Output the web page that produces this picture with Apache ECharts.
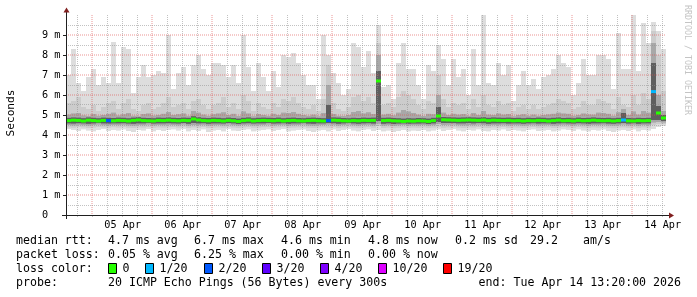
<!DOCTYPE html>
<html>
<head>
<meta charset="utf-8">
<script src="https://cdn.jsdelivr.net/npm/echarts@6/dist/echarts.min.js"></script>
<style>
html,body{margin:0;padding:0;background:#ffffff;}
#chart{width:697px;height:297px;}
</style>
</head>
<body>
<div id="chart"></div>
<script>
// ---- data (2-hour bins, 04 Apr 13:20 -> 14 Apr 13:20), values in ms ----
const pingMax = [
  7.0, 8.3, 6.6, 6.2, 6.9, 7.3, 6.5, 6.9, 6.6, 8.65,
  6.6, 8.4, 8.3, 6.1, 6.9, 7.5, 6.9, 7.0, 7.2, 7.1,
  9.0, 6.3, 7.1, 7.4, 6.5, 7.5, 8.0, 7.3, 7.0, 7.6,
  7.6, 7.5, 6.9, 7.5, 6.6, 9.0, 7.4, 6.2, 7.6, 6.9,
  6.2, 7.2, 6.4, 8.0, 7.9, 8.1, 7.6, 7.0, 6.5, 6.5,
  5.8, 9.0, 8.0, 7.1, 6.6, 6.0, 6.3, 8.6, 8.4, 7.4,
  8.2, 7.1, 9.5, 6.4, 6.5, 5.8, 7.6, 8.6, 7.3, 7.3,
  6.5, 5.8, 7.5, 7.2, 8.5, 7.8, 6.5, 7.8, 6.9, 7.3,
  6.0, 8.3, 6.5, 10.0, 6.6, 6.5, 7.6, 7.0, 7.5, 5.7,
  6.5, 7.2, 6.5, 6.8, 6.3, 6.9, 7.0, 7.3, 8.0, 7.6,
  7.4, 6.0, 6.6, 7.8, 7.0, 7.0, 8.0, 8.0, 7.8, 6.3,
  9.1, 7.3, 7.3, 10.0, 7.2, 9.6, 8.6, 9.65, 9.2, 8.3
];
const upperSmoke = [
  5.6, 5.7, 5.9, 5.4, 5.3, 5.5, 5.2, 5.4, 5.6, 5.7,
  5.3, 5.6, 5.8, 5.3, 5.2, 5.5, 5.6, 5.3, 5.4, 5.6,
  5.9, 5.4, 5.5, 5.6, 5.3, 5.7, 5.8, 5.5, 5.3, 5.5,
  5.6, 5.9, 5.4, 5.6, 5.3, 6.0, 5.7, 5.2, 5.6, 5.4,
  5.3, 5.6, 5.4, 5.8, 5.7, 5.9, 5.6, 5.4, 5.3, 5.5,
  5.2, 5.8, 7.5, 5.6, 5.3, 5.2, 5.4, 5.9, 6.0, 5.7,
  5.9, 5.6, 8.6, 5.5, 5.6, 5.4, 5.9, 6.2, 6.0, 5.8,
  5.5, 5.3, 5.7, 5.6, 7.0, 5.8, 5.4, 5.6, 5.5, 5.6,
  5.3, 5.8, 5.4, 6.0, 5.5, 5.4, 5.7, 5.5, 5.6, 5.2,
  5.4, 5.5, 5.3, 5.5, 5.3, 5.4, 5.5, 5.6, 5.8, 5.7,
  5.6, 5.3, 5.4, 5.7, 5.5, 5.5, 5.8, 5.7, 5.6, 5.3,
  5.9, 5.5, 5.4, 6.0, 5.5, 6.1, 5.8, 9.2, 8.0, 6.2
];
const innerHigh = [
  5.02, 5.08, 5.10, 4.98, 4.95, 5.05, 4.96, 5.00, 5.06, 5.12,
  4.98, 5.04, 5.10, 4.96, 4.94, 5.05, 5.08, 4.97, 5.00, 5.06,
  5.15, 5.00, 5.04, 5.08, 4.96, 5.20, 5.12, 5.02, 4.96, 5.04,
  5.08, 5.14, 5.00, 5.06, 4.95, 5.18, 5.08, 4.94, 5.05, 5.00,
  4.96, 5.06, 5.00, 5.12, 5.10, 5.15, 5.06, 5.00, 4.96, 5.02,
  4.94, 5.10, 6.50, 5.05, 4.96, 4.95, 5.00, 5.15, 5.20, 5.08,
  5.14, 5.05, 8.00, 5.02, 5.06, 4.98, 5.12, 5.25, 5.18, 5.10,
  5.02, 4.95, 5.06, 5.04, 6.00, 5.12, 5.00, 5.06, 5.02, 5.05,
  4.96, 5.10, 5.00, 5.20, 5.02, 5.00, 5.08, 5.02, 5.05, 4.94,
  5.00, 5.04, 4.96, 5.02, 4.96, 5.00, 5.03, 5.06, 5.12, 5.08,
  5.06, 4.96, 5.00, 5.08, 5.03, 5.02, 5.12, 5.10, 5.06, 4.96,
  5.14, 5.30, 5.00, 5.18, 5.02, 5.20, 5.12, 8.60, 6.00, 5.20
];
const darkHigh = [
  4.86, 4.88, 4.87, 4.84, 4.88, 4.86, 4.84, 4.87, 4.86, 4.85,
  4.87, 4.86, 4.84, 4.87, 4.89, 4.86, 4.85, 4.84, 4.87, 4.86,
  4.88, 4.86, 4.85, 4.87, 4.86, 4.94, 4.89, 4.86, 4.85, 4.87,
  4.86, 4.84, 4.87, 4.85, 4.82, 4.86, 4.88, 4.84, 4.86, 4.87,
  4.86, 4.85, 4.87, 4.84, 4.86, 4.87, 4.85, 4.84, 4.86, 4.87,
  4.85, 4.84, 5.50, 4.88, 4.87, 4.85, 4.84, 4.86, 4.85, 4.87,
  4.86, 4.87, 7.20, 4.86, 4.87, 4.85, 4.84, 4.82, 4.84, 4.83,
  4.85, 4.84, 4.82, 4.86, 5.40, 4.90, 4.89, 4.88, 4.87, 4.88,
  4.89, 4.88, 4.87, 4.89, 4.86, 4.88, 4.87, 4.86, 4.87, 4.85,
  4.86, 4.84, 4.86, 4.85, 4.87, 4.86, 4.84, 4.86, 4.88, 4.85,
  4.86, 4.84, 4.87, 4.85, 4.86, 4.88, 4.86, 4.85, 4.86, 4.84,
  4.86, 5.10, 4.85, 4.84, 4.86, 4.85, 4.86, 7.60, 5.45, 5.00
];
const medianRtt = [
  4.72, 4.74, 4.73, 4.70, 4.74, 4.72, 4.70, 4.73, 4.72, 4.71,
  4.73, 4.72, 4.70, 4.73, 4.75, 4.72, 4.71, 4.70, 4.73, 4.72,
  4.74, 4.72, 4.71, 4.73, 4.72, 4.80, 4.75, 4.72, 4.71, 4.73,
  4.72, 4.70, 4.73, 4.71, 4.68, 4.72, 4.74, 4.70, 4.72, 4.73,
  4.72, 4.71, 4.73, 4.70, 4.72, 4.73, 4.71, 4.70, 4.72, 4.73,
  4.71, 4.70, 4.72, 4.74, 4.73, 4.71, 4.70, 4.72, 4.71, 4.73,
  4.72, 4.73, 6.70, 4.72, 4.73, 4.71, 4.70, 4.68, 4.70, 4.69,
  4.71, 4.70, 4.68, 4.72, 4.95, 4.76, 4.75, 4.74, 4.73, 4.74,
  4.75, 4.74, 4.73, 4.75, 4.72, 4.74, 4.73, 4.72, 4.73, 4.71,
  4.72, 4.70, 4.72, 4.71, 4.73, 4.72, 4.70, 4.72, 4.74, 4.71,
  4.72, 4.70, 4.73, 4.71, 4.72, 4.74, 4.72, 4.71, 4.72, 4.70,
  4.72, 4.75, 4.71, 4.70, 4.72, 4.71, 4.72, 6.17, 5.10, 4.85
];
const darkLow = [
  4.58, 4.57, 4.59, 4.58, 4.56, 4.58, 4.60, 4.58, 4.57, 4.58,
  4.58, 4.59, 4.57, 4.56, 4.58, 4.58, 4.60, 4.57, 4.58, 4.58,
  4.59, 4.58, 4.57, 4.60, 4.56, 4.60, 4.58, 4.59, 4.56, 4.58,
  4.58, 4.57, 4.60, 4.58, 4.55, 4.58, 4.59, 4.57, 4.58, 4.58,
  4.60, 4.57, 4.58, 4.59, 4.56, 4.58, 4.58, 4.60, 4.57, 4.56,
  4.58, 4.58, 4.60, 4.59, 4.56, 4.58, 4.60, 4.58, 4.56, 4.58,
  4.59, 4.57, 4.70, 4.56, 4.58, 4.55, 4.57, 4.58, 4.56, 4.57,
  4.57, 4.58, 4.55, 4.58, 4.65, 4.60, 4.60, 4.60, 4.58, 4.58,
  4.60, 4.58, 4.60, 4.59, 4.56, 4.58, 4.58, 4.59, 4.57, 4.58,
  4.58, 4.56, 4.58, 4.59, 4.57, 4.58, 4.58, 4.56, 4.58, 4.59,
  4.58, 4.57, 4.59, 4.58, 4.56, 4.58, 4.58, 4.59, 4.57, 4.56,
  4.58, 4.60, 4.57, 4.59, 4.56, 4.58, 4.58, 4.75, 4.75, 4.70
];
const innerLow = [
  4.50, 4.48, 4.51, 4.49, 4.47, 4.50, 4.52, 4.49, 4.48, 4.50,
  4.49, 4.51, 4.48, 4.47, 4.50, 4.49, 4.52, 4.48, 4.50, 4.49,
  4.51, 4.50, 4.48, 4.52, 4.47, 4.50, 4.49, 4.51, 4.47, 4.49,
  4.50, 4.48, 4.52, 4.49, 4.47, 4.50, 4.51, 4.48, 4.49, 4.50,
  4.52, 4.48, 4.50, 4.51, 4.47, 4.49, 4.50, 4.52, 4.48, 4.47,
  4.49, 4.50, 4.52, 4.51, 4.47, 4.50, 4.52, 4.49, 4.47, 4.50,
  4.51, 4.48, 4.56, 4.47, 4.49, 4.46, 4.48, 4.50, 4.47, 4.49,
  4.48, 4.50, 4.47, 4.49, 4.55, 4.50, 4.51, 4.52, 4.49, 4.48,
  4.50, 4.49, 4.52, 4.50, 4.47, 4.50, 4.49, 4.51, 4.48, 4.50,
  4.49, 4.47, 4.50, 4.51, 4.48, 4.49, 4.50, 4.47, 4.49, 4.51,
  4.50, 4.48, 4.51, 4.49, 4.47, 4.50, 4.49, 4.51, 4.48, 4.47,
  4.49, 4.52, 4.48, 4.51, 4.47, 4.50, 4.49, 4.62, 4.65, 4.62
];
const lowerSmoke = [
  4.38, 4.36, 4.40, 4.38, 4.35, 4.37, 4.40, 4.38, 4.36, 4.39,
  4.37, 4.40, 4.36, 4.35, 4.38, 4.37, 4.40, 4.36, 4.38, 4.37,
  4.39, 4.40, 4.37, 4.41, 4.35, 4.38, 4.36, 4.40, 4.35, 4.37,
  4.38, 4.36, 4.40, 4.37, 4.35, 4.38, 4.40, 4.36, 4.37, 4.39,
  4.40, 4.36, 4.38, 4.41, 4.35, 4.37, 4.38, 4.40, 4.36, 4.35,
  4.37, 4.38, 4.36, 4.40, 4.35, 4.38, 4.41, 4.37, 4.35, 4.38,
  4.40, 4.36, 4.45, 4.35, 4.37, 4.34, 4.36, 4.38, 4.35, 4.37,
  4.36, 4.38, 4.35, 4.37, 4.42, 4.36, 4.38, 4.41, 4.37, 4.35,
  4.38, 4.37, 4.40, 4.36, 4.35, 4.38, 4.37, 4.40, 4.36, 4.38,
  4.37, 4.35, 4.38, 4.40, 4.36, 4.37, 4.38, 4.35, 4.37, 4.40,
  4.38, 4.36, 4.40, 4.37, 4.35, 4.38, 4.37, 4.40, 4.36, 4.34,
  4.37, 4.38, 4.36, 4.40, 4.35, 4.38, 4.37, 4.50, 4.55, 4.55
];
const pingMin = [
  4.30, 4.25, 4.20, 4.28, 4.22, 4.18, 4.25, 4.30, 4.20, 4.25,
  4.22, 4.28, 4.20, 4.15, 4.25, 4.22, 4.30, 4.18, 4.25, 4.20,
  4.25, 4.28, 4.22, 4.30, 4.18, 4.25, 4.20, 4.28, 4.15, 4.22,
  4.25, 4.18, 4.30, 4.22, 4.20, 4.25, 4.28, 4.18, 4.22, 4.25,
  4.28, 4.20, 4.25, 4.30, 4.18, 4.22, 4.25, 4.28, 4.20, 4.15,
  4.22, 4.25, 4.18, 4.28, 4.20, 4.25, 4.30, 4.22, 4.18, 4.25,
  4.28, 4.20, 4.25, 4.18, 4.22, 4.15, 4.20, 4.25, 4.18, 4.22,
  4.20, 4.25, 4.18, 4.22, 4.28, 4.20, 4.25, 4.30, 4.22, 4.18,
  4.25, 4.22, 4.28, 4.20, 4.18, 4.25, 4.22, 4.28, 4.20, 4.25,
  4.22, 4.18, 4.25, 4.28, 4.20, 4.22, 4.25, 4.18, 4.22, 4.28,
  4.25, 4.20, 4.28, 4.22, 4.18, 4.25, 4.22, 4.28, 4.20, 4.15,
  4.22, 4.25, 4.20, 4.28, 4.18, 4.25, 4.22, 4.30, 4.40, 4.45
];
// lost pings per bin (out of 20)
const lossCount = [
  0,0,0,0,0,0,0,0,2,0, 0,0,0,0,0,0,0,0,0,0,
  0,0,0,0,0,0,0,0,0,0, 0,0,0,0,0,0,0,0,0,0,
  0,0,0,0,0,0,0,0,0,0, 0,0,2,0,0,0,0,0,0,0,
  0,0,0,0,0,0,0,0,0,0, 0,0,0,0,0,0,0,0,0,0,
  0,0,0,0,0,0,0,0,0,0, 0,0,0,0,0,0,0,0,0,0,
  0,0,0,0,0,0,0,0,0,0, 0,1,0,0,0,0,0,1,0,0
];

const lossLevels = [0, 1, 2, 3, 4, 10, 19];
const lossColors = ['#26ff00', '#00b8ff', '#0059ff', '#5e00ff', '#7e00ff', '#dd00ff', '#ff0000'];
const lossLabels = ['0', '1/20', '2/20', '3/20', '4/20', '10/20', '19/20'];
const yTickLabels = ['0', '1 m', '2 m', '3 m', '4 m', '5 m', '6 m', '7 m', '8 m', '9 m'];
const yGridValues = [0.5, 1, 1.5, 2, 2.5, 3, 3.5, 4, 4.5, 5, 5.5, 6, 6.5, 7, 7.5, 8, 8.5, 9, 9.5];
const dayLabels = ['05 Apr', '06 Apr', '07 Apr', '08 Apr', '09 Apr', '10 Apr', '11 Apr', '12 Apr', '13 Apr', '14 Apr'];
const rttStats = ['4.7 ms avg', '6.7 ms max', '4.6 ms min', '4.8 ms now', '0.2 ms sd', '29.2', 'am/s'];
const lossStats = ['0.05 % avg', '6.25 % max', '0.00 % min', '0.00 % now'];
const probeText = '20 ICMP Echo Pings (56 Bytes) every 300s';
const endText = 'end: Tue Apr 14 13:20:00 2026';

const START = Date.UTC(2026, 3, 4, 13, 20, 0);
const END = Date.UTC(2026, 3, 14, 13, 20, 0);
const BIN = (END - START) / pingMax.length;
const binTimes = pingMax.map((_, i) => String(START + i * BIN));
// 20-minute time slots for the time grid (ticks, grid lines, day labels)
const SLOT = 20 * 60 * 1000;
const slotTimes = [];
for (let t = START; t <= END; t += SLOT) slotTimes.push(String(t));

// ---- styling ----
const MONO = '"DejaVu Sans Mono", "Liberation Mono", monospace';
const GRID_C = 'rgba(143,143,143,0.55)';
const MGRID_C = 'rgba(222,79,79,0.6)';
const AXIS_C = '#1f1f1f';
const ARROW_C = '#801f1f';
const G = {left: 66, top: 15, w: 600, h: 200};

function lossColor(n) {
  let c = lossColors[0];
  lossLevels.forEach((lv, k) => { if (n >= lv) c = lossColors[k]; });
  return c;
}
const hourOf = v => new Date(Number(v)).getUTCHours();
const minOf = v => new Date(Number(v)).getUTCMinutes();
const isMinorTime = (i, v) => minOf(v) === 0 && hourOf(v) % 6 === 0 && hourOf(v) !== 0;
const isMidnight = (i, v) => minOf(v) === 0 && hourOf(v) === 0;
const isNoon = (i, v) => minOf(v) === 0 && hourOf(v) === 12;
const dayLabelOf = v => {
  const d = new Date(Number(v)).getUTCDate();
  const s = dayLabels.find(s => parseInt(s, 10) === d);
  return s || '';
};

function band(name, lo, hi, color, z, colorFn) {
  const common = {type: 'bar', stack: name, barCategoryGap: '0%', barGap: '-100%',
    silent: true, animation: false, z: z, xAxisIndex: 0, yAxisIndex: 0};
  return [
    Object.assign({}, common, {name: name + '_base', data: lo,
      itemStyle: {color: 'rgba(0,0,0,0)'}}),
    Object.assign({}, common, {name: name, data: hi.map((v, i) => +(v - lo[i]).toFixed(4)),
      itemStyle: {color: colorFn || color}})
  ];
}

// median line drawn as a thin band (3 px) around the median value
const LINE_HALF = 0.075;
const medLo = medianRtt.map(v => +(v - LINE_HALF).toFixed(4));
const medHi = medianRtt.map(v => +(v + LINE_HALF).toFixed(4));

// grid drawn over the smoke (as rrdtool does); minor lines snapped crisp,
// major (red) lines kept slightly soft so their colour reads like the reference
const vGridData = slotTimes
  .map((v, i) => [i, 0, isMidnight(i, v) ? 1 : (isMinorTime(i, v) ? 0 : -1)])
  .filter(d => d[2] >= 0);
const hGridData = yGridValues.map(v => [0, v, Number.isInteger(v) ? 1 : 0]);

const gridSeries = [
  {
    type: 'custom', name: 'vgrid', xAxisIndex: 1, yAxisIndex: 0, z: 5, silent: true, animation: false,
    data: vGridData,
    renderItem: (params, api) => {
      const cs = params.coordSys;
      const major = api.value(2) === 1;
      const x = Math.floor(api.coord([api.value(0), 0])[0]) + (major ? 0 : 0.5);
      return {type: 'line', silent: true,
        shape: {x1: x, y1: cs.y, x2: x, y2: cs.y + cs.height},
        style: {stroke: major ? MGRID_C : GRID_C, lineWidth: 1, lineDash: [1, 1], fill: null}};
    }
  },
  {
    type: 'custom', name: 'hgrid', xAxisIndex: 1, yAxisIndex: 0, z: 5, silent: true, animation: false,
    data: hGridData,
    renderItem: (params, api) => {
      const cs = params.coordSys;
      const major = api.value(2) === 1;
      const y = Math.floor(api.coord([0, api.value(1)])[1]) + (major ? 0 : 0.5);
      return {type: 'line', silent: true,
        shape: {x1: cs.x, y1: y, x2: cs.x + cs.width, y2: y},
        style: {stroke: major ? MGRID_C : GRID_C, lineWidth: 1, lineDash: [1, 1], fill: null}};
    }
  }
];

const series = [].concat(
  band('smoke1', pingMin, pingMax, '#dddddd', 2),
  band('smoke2', lowerSmoke, upperSmoke, '#cccccc', 2),
  band('smoke3', innerLow, innerHigh, '#a8a8a8', 2),
  band('smoke4', darkLow, darkHigh, '#5e5e5e', 2),
  gridSeries,
  band('median', medLo, medHi, null, 10, p => lossColor(lossCount[p.dataIndex]))
);

// ---- legend / text graphics ----
const graphics = [];
const txt = (text, x, y, opts) => graphics.push(Object.assign({
  type: 'text', x: x, y: y, silent: true, z: 20,
  style: Object.assign({text: text, font: '11.6px ' + MONO, fill: '#000',
    align: 'left', verticalAlign: 'middle', textAlign: 'left', textVerticalAlign: 'middle'}, (opts && opts.style) || {})
}, (opts && opts.el) || {}));

// axis lines and arrows
graphics.push({type: 'line', silent: true, z: 20, shape: {x1: 62, y1: G.top + G.h + 0.5, x2: 669, y2: G.top + G.h + 0.5},
  style: {stroke: AXIS_C, lineWidth: 1}});
graphics.push({type: 'line', silent: true, z: 20, shape: {x1: G.left + 0.5, y1: 219, x2: G.left + 0.5, y2: 12},
  style: {stroke: AXIS_C, lineWidth: 1}});
graphics.push({type: 'polygon', silent: true, z: 20, shape: {points: [[669, 212.5], [669, 218.5], [674, 215.5]]},
  style: {fill: ARROW_C}});
graphics.push({type: 'polygon', silent: true, z: 20, shape: {points: [[63.5, 12.5], [69.5, 12.5], [66.5, 7.5]]},
  style: {fill: ARROW_C}});

txt('Seconds', 11, 113, {el: {rotation: Math.PI / 2},
  style: {align: 'center', textAlign: 'center', font: '11.2px ' + MONO}});
txt('RRDTOOL / TOBI OETIKER', 687, 60, {el: {rotation: -Math.PI / 2},
  style: {align: 'center', textAlign: 'center', font: '8.3px ' + MONO, fill: '#c4c4c4'}});

const rttX = [108, 194, 281, 368, 455, 530, 583];
txt('median rtt:', 16, 241);
rttStats.forEach((s, i) => txt(s, rttX[i], 241));
txt('packet loss:', 16, 255);
lossStats.forEach((s, i) => txt(s, rttX[i], 255));
txt('loss color:', 16, 269);
const boxX = [108.5, 145.5, 204.5, 262.5, 320.5, 378.5, 443.5];
lossLabels.forEach((s, i) => {
  graphics.push({type: 'rect', silent: true, z: 20, shape: {x: boxX[i], y: 263.5, width: 8, height: 10},
    style: {fill: lossColors[i], stroke: '#000', lineWidth: 1}});
  txt(s, boxX[i] + 14, 269);
});
txt('probe:', 16, 283);
txt(probeText, 108, 283);
txt(endText, 681, 283, {style: {align: 'right', textAlign: 'right'}});

const chart = echarts.init(document.getElementById('chart'), null, {renderer: 'canvas'});
chart.setOption({
  animation: false,
  backgroundColor: '#ffffff',
  grid: {left: G.left, top: G.top, width: G.w, height: G.h, containLabel: false},
  xAxis: [
    {type: 'category', data: binTimes, boundaryGap: true, show: false, position: 'bottom'},
    {
      type: 'category', data: slotTimes, boundaryGap: false, position: 'bottom', z: 5,
      axisLine: {show: false},
      axisTick: {show: true, interval: (i, v) => isMinorTime(i, v) || isMidnight(i, v), length: 2,
        lineStyle: {color: GRID_C}},
      splitLine: {show: false},
      axisLabel: {show: true, interval: isNoon, formatter: v => dayLabelOf(v), margin: 5,
        color: '#000', fontFamily: MONO, fontSize: 10.2}
    }
  ],
  yAxis: [{
    type: 'value', min: 0, max: 10, interval: 1, z: 5,
    axisLine: {show: false},
    axisTick: {show: true, length: 3, lineStyle: {color: AXIS_C}},
    splitLine: {show: false},
    axisLabel: {
      formatter: v => (v < 10 && yTickLabels[Math.round(v)] !== undefined ? yTickLabels[Math.round(v)] : ''),
      align: 'left', margin: 24, color: '#000', fontFamily: MONO, fontSize: 10.2, showMaxLabel: false
    }
  }],
  tooltip: {show: false},
  series: series,
  graphic: graphics
});
</script>
</body>
</html>
